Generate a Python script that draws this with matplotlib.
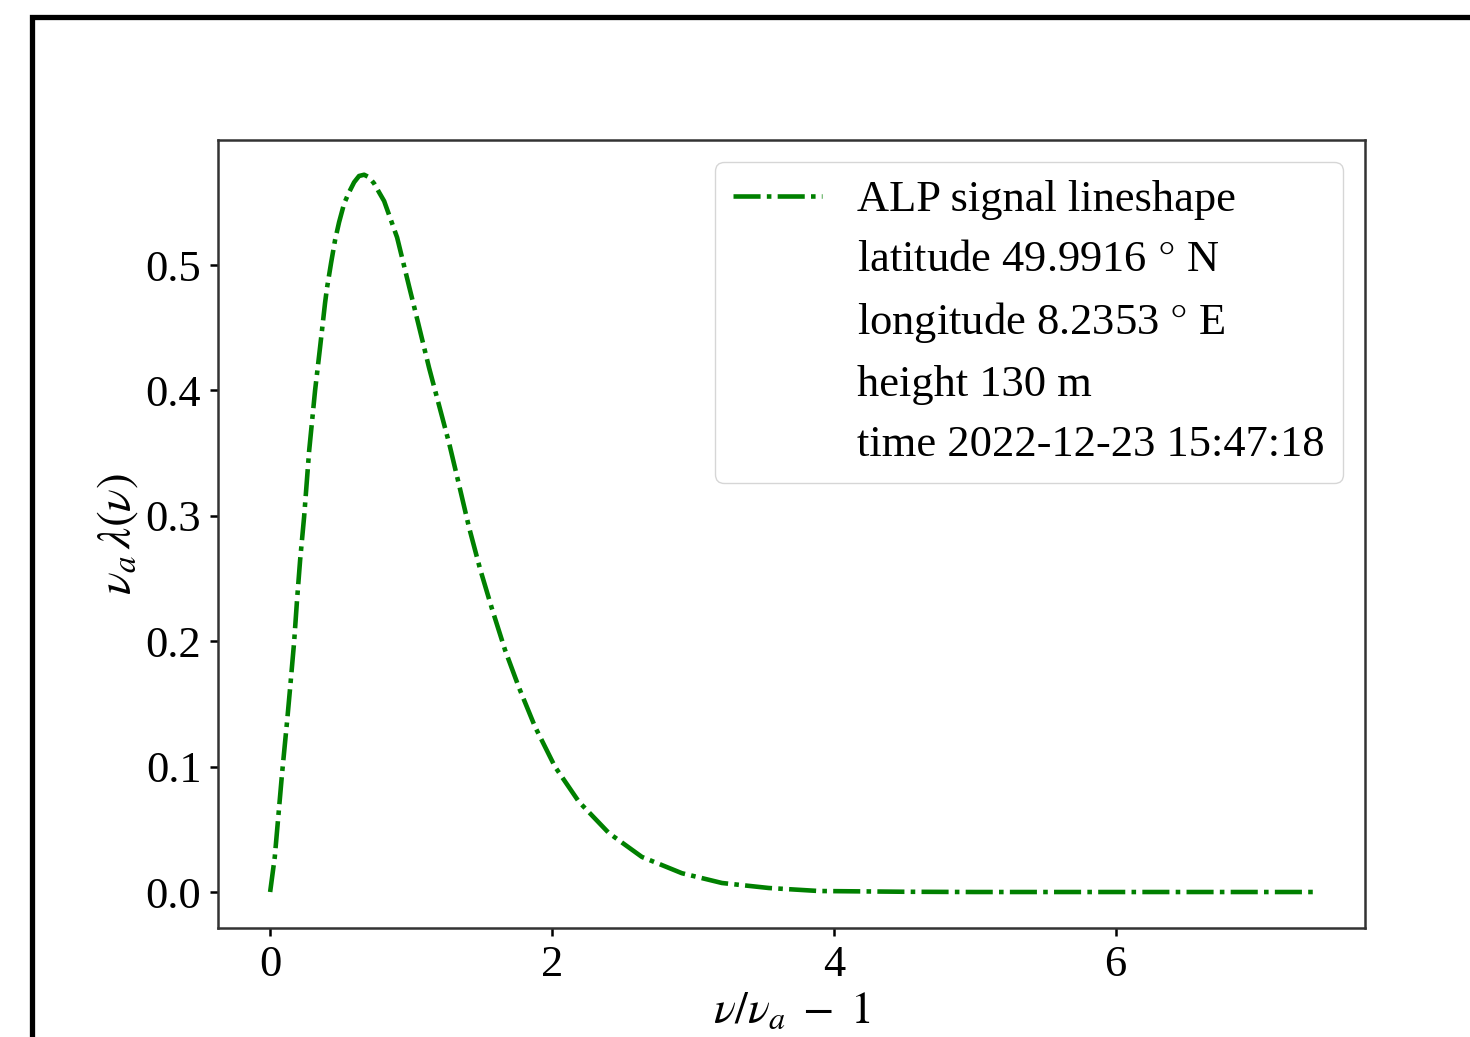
import matplotlib
matplotlib.use('Agg')
import matplotlib.pyplot as plt
from matplotlib.patches import Rectangle
from matplotlib.ticker import MultipleLocator

plt.rcParams['font.family'] = ['Liberation Serif', 'DejaVu Serif']
plt.rcParams['mathtext.fontset'] = 'stix'
plt.rcParams['lines.scale_dashes'] = False

# lineshape
nu_rel = [0.0, 0.033, 0.085, 0.121, 0.142, 0.170, 0.191, 0.213, 0.241, 0.277,
          0.319, 0.355, 0.390, 0.404, 0.433, 0.461, 0.489, 0.525, 0.560, 0.596,
          0.631, 0.667, 0.702, 0.738, 0.773, 0.809, 0.844, 0.901, 0.936, 0.986,
          1.028, 1.128, 1.199, 1.270, 1.340, 1.411, 1.489, 1.574, 1.667, 1.766,
          1.879, 2.021, 2.191, 2.404, 2.638, 2.922, 3.206, 3.539, 3.894, 4.5,
          5.0, 6.0, 7.4]
lineshape = [0.0, 0.028, 0.095, 0.137, 0.163, 0.199, 0.233, 0.265, 0.299, 0.352,
             0.400, 0.435, 0.470, 0.482, 0.502, 0.520, 0.534, 0.549, 0.558, 0.566,
             0.571, 0.572, 0.570, 0.565, 0.558, 0.551, 0.540, 0.522, 0.506, 0.483,
             0.464, 0.418, 0.388, 0.358, 0.325, 0.291, 0.258, 0.226, 0.193, 0.163,
             0.132, 0.100, 0.072, 0.047, 0.028, 0.015, 0.0072, 0.0032, 0.0008, 0.0002,
             0.0, 0.0, 0.0]

info = ['latitude 49.9916 $\\degree$ N', 'longitude 8.2353 $\\degree$ E',
        'height 130 m', 'time 2022-12-23 15:47:18']

W, H = 1470, 1037
fig = plt.figure(figsize=(W/100, H/100), dpi=100)

# black frame of the (cropped) original figure
fig.patches.append(Rectangle((32.3/W, -0.2), 1.2, 1 - 16.5/H + 0.2,
                             transform=fig.transFigure, fill=False,
                             edgecolor='black', linewidth=3.8))

ax = fig.add_axes([218/W, (H-928)/H, 1147/W, 788/H])
ax.plot(nu_rel, lineshape, color='green', linewidth=3.3,
        dashes=(19.5, 4.5, 3.3, 4.5), label='ALP signal lineshape')
for s in info:
    ax.plot([], [], ' ', label=s)

ax.set_ylim(-0.0287, 0.5997)
ax.xaxis.set_major_locator(MultipleLocator(2))

ax.set_xlabel(r'$\nu/\nu_a\;-\;1$', fontsize=33, labelpad=4)
ax.set_ylabel(r'$\nu_a\,\lambda(\nu)$', fontsize=34, labelpad=4)
ax.tick_params(labelsize=32, length=6, width=1.8, pad=6)
for sp in ax.spines.values():
    sp.set_linewidth(1.8)
    sp.set_color('#333333')

ax.legend(loc='upper right', fontsize=32, handlelength=2.0, labelspacing=0.45)

fig.savefig('out.png', dpi=100)
